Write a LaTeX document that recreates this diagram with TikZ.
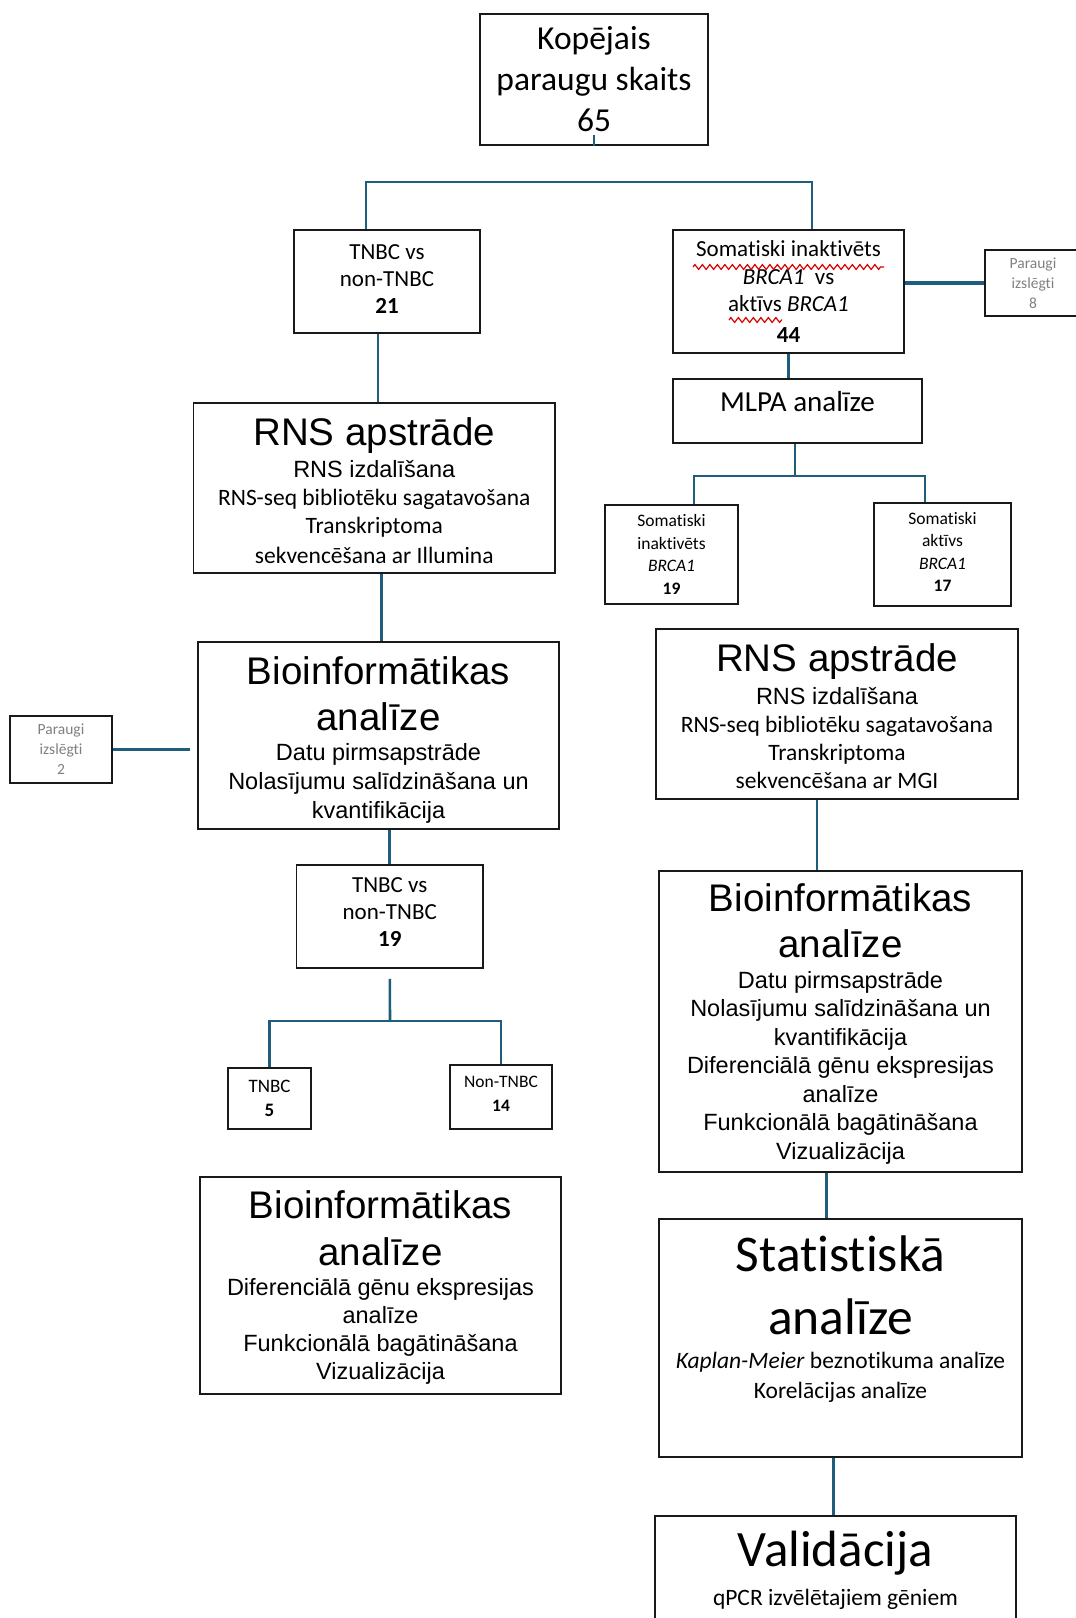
\documentclass[tikz,border=0pt]{standalone}
\usepackage{fontspec}
\setmainfont{Carlito}[Ligatures=NoCommon]
\newfontfamily\arial{Liberation Sans}
\usetikzlibrary{decorations.pathmorphing}
\definecolor{saitesZila}{RGB}{31,93,125}
\newcommand\fsz[2]{\fontsize{#1}{#2}\selectfont}
\lineskiplimit=-100pt

\begin{document}
\begin{tikzpicture}[x=1pt,y=-1pt,
    kaste/.style={draw=black!90, line width=1.5pt, align=center, inner sep=0pt},
    saite/.style={draw=saitesZila, line width=2.6pt},
    biezs/.style={saite, line width=3.4pt},
    izslegts/.style={kaste, text=black!50, font=\fsz{15.5}{20}},
    vilnis/.style={draw=red!85!black, line width=1.2pt, decorate,
        decoration={zigzag, amplitude=2.4pt, segment length=7.5pt}}]
    \useasboundingbox (0,0) rectangle (1076,1618);

    % Kopējais paraugu skaits
    \node[kaste, minimum width=228, minimum height=131, font=\fsz{33.5}{41}] (kop) at (594,79.5)
        {Kopējais\\paraugu skaits\\65};

    % Kreisā kolonna (TNBC)
    \node[kaste, minimum width=186, minimum height=103, font=\fsz{23}{27}, text depth=4pt] (tnbcA) at (387,281.5)
        {TNBC vs\\non-TNBC\\\textbf{21}};
    \node[kaste, minimum width=361.5, minimum height=170, font=\fsz{23.5}{28}, text height=151pt, text depth=0pt] (rnsA) at (374.25,488)
        {{\arial\fsz{38.5}{44}RNS apstrāde}\\[4pt]{\arial\fsz{23.5}{28}RNS izdalīšana}\\RNS-seq bibliotēku sagatavošana\\Transkriptoma\\[2pt]sekvencēšana ar Illumina};
    \node[kaste, minimum width=361, minimum height=187, font={\arial\fsz{23.5}{29}}, text height=170pt, text depth=5pt] (bioA) at (378.5,735.5)
        {{\fsz{38.5}{44}Bioinformātikas}\\[17pt]{\fsz{38.5}{44}analīze}\\[1pt]Datu pirmsapstrāde\\Nolasījumu salīdzināšana un\\kvantifikācija};
    \node[izslegts, minimum width=102, minimum height=67] (izsl2) at (61,749.5)
        {Paraugi\\izslēgti\\2};
    \node[kaste, minimum width=186.5, minimum height=103, font=\fsz{23}{27}, text depth=8pt] (tnbcB) at (389.75,916.5)
        {TNBC vs\\non-TNBC\\\textbf{19}};
    \node[kaste, minimum width=83, minimum height=61, font=\fsz{19}{24}] (tnbc5) at (269.5,1098.5)
        {TNBC\\\textbf{5}};
    \node[kaste, minimum width=102, minimum height=64, font=\fsz{17.5}{24}, text depth=6pt] (non14) at (501,1097)
        {Non-TNBC\\\textbf{14}};
    \node[kaste, minimum width=361, minimum height=217, font={\arial\fsz{23.5}{28}}, text depth=0pt] (bioC) at (380.5,1285.5)
        {{\fsz{38.5}{44}Bioinformātikas}\\[19pt]{\fsz{38.5}{44}analīze}\\[2pt]Diferenciālā gēnu ekspresijas\\analīze\\Funkcionālā bagātināšana\\Vizualizācija};

    % Labā kolonna (BRCA1)
    \node[kaste, minimum width=231, minimum height=123, font=\fsz{23}{27.5}] (somA) at (788.5,291.5)
        {Somatiski inaktivēts\\\textit{BRCA1}\ \ vs\\aktīvs \textit{BRCA1}\\[3pt]\textbf{44}};
    \node[izslegts, minimum width=96, minimum height=66] (izsl8) at (1033,283)
        {Paraugi\\izslēgti\\8};
    \node[kaste, minimum width=249, minimum height=64, font=\fsz{29}{35}, text height=20pt, text depth=20pt] (mlpa) at (797.5,411)
        {MLPA analīze};
    \node[kaste, minimum width=133, minimum height=99, font=\fsz{17.5}{22.5}] (somL) at (671.5,554.5)
        {Somatiski\\inaktivēts\\\textit{BRCA1}\\\textbf{19}};
    \node[kaste, minimum width=137, minimum height=103, font=\fsz{17.5}{22.5}, text depth=5pt] (somR) at (942.5,554.5)
        {Somatiski\\aktīvs\\\textit{BRCA1}\\\textbf{17}};
    \node[kaste, minimum width=362, minimum height=170, font=\fsz{23.5}{28}, text height=149pt, text depth=0pt] (rnsB) at (837,714)
        {{\arial\fsz{38.5}{44}RNS apstrāde}\\[5pt]{\arial\fsz{23.5}{28}RNS izdalīšana}\\RNS-seq bibliotēku sagatavošana\\Transkriptoma\\sekvencēšana ar MGI};
    \node[kaste, minimum width=363, minimum height=301, font={\arial\fsz{23.5}{28.5}}, text depth=0pt] (bioB) at (840.5,1021.5)
        {{\fsz{38.5}{44}Bioinformātikas}\\[18pt]{\fsz{38.5}{44}analīze}\\[2pt]Datu pirmsapstrāde\\Nolasījumu salīdzināšana un\\kvantifikācija\\Diferenciālā gēnu ekspresijas\\analīze\\Funkcionālā bagātināšana\\Vizualizācija};
    \node[kaste, minimum width=363, minimum height=238, font=\fsz{23.5}{30}, text depth=42pt] (stat) at (840.5,1338)
        {{\fsz{51.5}{60}Statistiskā}\\[33pt]{\fsz{51.5}{60}analīze}\\[4pt]\textit{Kaplan-Meier} beznotikuma analīze\\Korelācijas analīze};
    \node[kaste, minimum width=361, minimum height=114, font=\fsz{23.5}{30}, text depth=9pt] (valid) at (835.5,1573)
        {{\fsz{51}{58}Validācija}\\[9pt]qPCR izvēlētajiem gēniem};

    % Savienojumi
    \coordinate (z1) at (366,182);
    \coordinate (z2) at (812,182);
    \coordinate (z3) at (390,1021);
    \coordinate (z4) at (795,476);
    \coordinate (z5) at (694,476);
    \coordinate (z6) at (925,476);
    \draw[saite] (kop.south) -- ++(0,-11);
    \draw[saite] (tnbcA.north -| z1) -- (z1) -- (z2) -- (somA.north -| z2);
    \draw[saite] ([xshift=-9pt]tnbcA.south) -- ([xshift=-9pt]tnbcA.south |- rnsA.north);
    \draw[saite] ([xshift=7pt]rnsA.south) -- ([xshift=7pt]rnsA.south |- bioA.north);
    \draw[saite] (bioA.south -| tnbcB.north) -- (tnbcB.north);
    \draw[saite, shorten <=10pt] (tnbcB.south) -- (z3);
    \draw[saite] (tnbc5.north) |- (z3) -| (non14.north);
    \draw[biezs, shorten >=7pt] (izsl2.east) -- (izsl2.east -| bioA.west);
    \draw[biezs] (somA.east |- izsl8.west) -- (izsl8.west);
    \draw[saite] (somA.south) -- (somA.south |- mlpa.north);
    \draw[saite] (mlpa.south -| z4) -- (z4);
    \draw[saite] (somL.north -| z5) -- (z5) -- (z6) -- (somR.north -| z6);
    \draw[saite] ([xshift=-20pt]rnsB.south) -- ([xshift=-20pt]rnsB.south |- bioB.north);
    \draw[saite] ([xshift=-14pt]bioB.south) -- ([xshift=-14pt]bioB.south |- stat.north);
    \draw[saite] ([xshift=-7pt]stat.south) -- ([xshift=-7pt]stat.south |- valid.north);

    % Pareizrakstības viļņi
    \draw[vilnis] (693,267) -- (884,267);
    \draw[vilnis] (729,320) -- (782,320);
\end{tikzpicture}
\end{document}
